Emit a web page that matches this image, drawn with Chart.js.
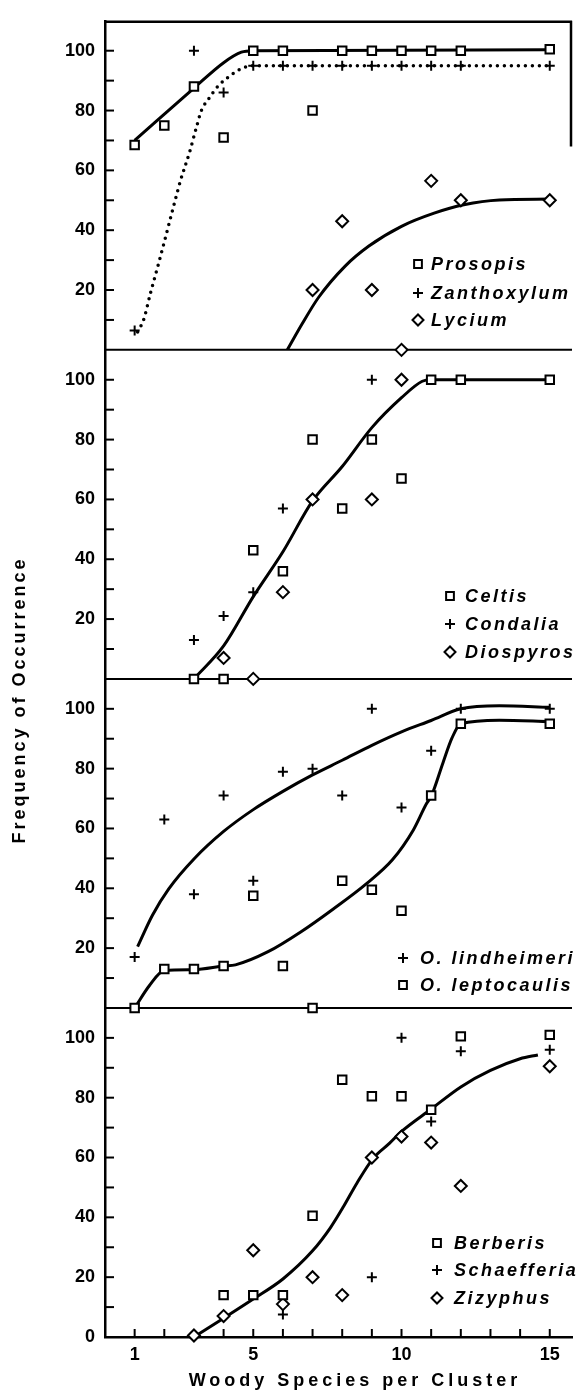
<!DOCTYPE html>
<html>
<head>
<meta charset="utf-8">
<title>Frequency of Occurrence vs Woody Species per Cluster</title>
<script src="https://cdn.jsdelivr.net/npm/chart.js@4.4.1/dist/chart.umd.min.js"></script>
<style>
    html, body { margin: 0; padding: 0; background: #fff; }
    #wrap { position: relative; width: 580px; height: 1394px; }
</style>
</head>
<body>
<div id="wrap"><canvas id="freqChart"></canvas></div>
<script>
// values (x = woody species per cluster, y = frequency %)

// panel 1
const prosopisX = [1, 2, 3, 4, 5, 6, 7, 8, 9, 10, 11, 12, 15];
const prosopisY = [68.5, 75, 88, 71, 100, 100, 80, 100, 100, 100, 100, 100, 100.5];
const zanthoxylumX = [1, 3, 4, 5, 6, 7, 8, 9, 10, 11, 12, 15];
const zanthoxylumY = [6.5, 100, 86, 95, 95, 95, 95, 95, 95, 95, 95, 95];
const lyciumX = [7, 8, 9, 10, 11, 12, 15];
const lyciumY = [20, 43, 20, 0, 56.5, 50, 50];
const prosopisFitX = [1, 3, 4, 4.6, 5, 15];
const prosopisFitY = [70, 87.5, 96, 99.5, 100, 100.3];
const zanthoxylumFitX = [1.1, 1.3, 1.55, 1.8, 2.05, 2.3, 2.55, 2.85, 3.1, 3.25, 3.5, 3.8, 4.2, 4.6, 5, 15];
const zanthoxylumFitY = [6, 10, 19.6, 28.6, 38, 47.5, 56.7, 66, 75, 80, 84, 88, 91.5, 94, 95, 95];
const lyciumFitX = [6.15, 6.65, 7.2, 8.1, 8.9, 10, 11.1, 12.1, 13.3, 15];
const lyciumFitY = [0, 8.7, 17.5, 28, 34.7, 41.3, 45.7, 48.5, 50.1, 50.4];

// panel 2
const celtisX = [3, 4, 5, 6, 7, 8, 9, 10, 11, 12, 15];
const celtisY = [0, 0, 43, 36, 80, 57, 80, 67, 100, 100, 100];
const condaliaX = [3, 4, 5, 6, 9];
const condaliaY = [13, 21, 29, 57, 100];
const diospyrosX = [4, 5, 6, 7, 9, 10];
const diospyrosY = [7, 0, 29, 60, 60, 100];
const panel2FitX = [3, 4, 5, 6, 7, 8, 9, 10, 10.7, 11, 15];
const panel2FitY = [0, 11, 27.5, 42.5, 59.5, 71, 84, 94, 99.5, 100, 100];

// panel 3
const lindheimeriX = [1, 2, 3, 4, 5, 6, 7, 8, 9, 10, 11, 12, 15];
const lindheimeriY = [17, 63, 38, 71, 42.5, 79, 80, 71, 100, 67, 86, 100, 100];
const leptocaulisX = [1, 2, 3, 4, 5, 6, 7, 8, 9, 10, 11, 12, 15];
const leptocaulisY = [0, 13, 13, 14, 37.5, 14, 0, 42.5, 39.5, 32.5, 71, 95, 95];
const lindheimeriFitX = [1.1, 1.6, 2.15, 3, 4, 5, 6, 7, 8, 9, 10, 11, 12, 13.3, 15];
const lindheimeriFitY = [20.5, 31, 39.8, 49.8, 59, 66.3, 72.4, 77.9, 82.8, 87.8, 92.3, 96.1, 100, 101, 100.5];
const leptocaulisFitX = [1, 1.5, 2, 3, 4, 4.4, 5.5, 6.6, 7.7, 8.8, 9.7, 10.4, 10.85, 11, 11.4, 11.7, 12, 13.3, 15];
const leptocaulisFitY = [0, 7.5, 12.5, 12.8, 14, 14.4, 18.8, 25.4, 33.1, 41.4, 49.6, 59.5, 68.4, 70.7, 82, 90.2, 95, 96.2, 95.7];

// panel 4
const berberisX = [4, 5, 6, 7, 8, 9, 10, 11, 12, 15];
const berberisY = [14, 14, 14, 40.5, 86, 80.5, 80.5, 76, 100.5, 101];
const schaefferiaX = [6, 9, 10, 11, 12, 15];
const schaefferiaY = [7.5, 20, 100, 72, 95.5, 96];
const zizyphusX = [3, 4, 5, 6, 7, 8, 9, 10, 11, 12, 15];
const zizyphusY = [0.5, 7, 29, 11, 20, 14, 60, 67, 65, 50.5, 90.5];
const panel4FitX = [3, 4, 5, 6, 7, 7.6, 8.05, 8.5, 9.05, 9.6, 10, 11, 12, 13, 14, 14.6];
const panel4FitY = [0, 6.3, 12.7, 19.4, 28.8, 36.5, 43.7, 51.5, 59.8, 64.8, 68.7, 76.2, 83.6, 89.1, 93, 94.3];

const xTickLabels = [1, 5, 10, 15];
const yTickLabels = [20, 40, 60, 80, 100];
const panelIds = ['p1', 'p2', 'p3', 'p4'];

const legendPanels = [
    { markX: 418, textX: 431, rows: [['rect', 'Prosopis', 264], ['cross', 'Zanthoxylum', 293], ['rectRot', 'Lycium', 320]] },
    { markX: 450, textX: 465, rows: [['rect', 'Celtis', 596], ['cross', 'Condalia', 624], ['rectRot', 'Diospyros', 652]] },
    { markX: 403, textX: 420, rows: [['cross', 'O. lindheimeri', 958], ['rect', 'O. leptocaulis', 985]] },
    { markX: 437, textX: 454, rows: [['rect', 'Berberis', 1243], ['cross', 'Schaefferia', 1270], ['rectRot', 'Zizyphus', 1298]] }
];

const FONT = "'Liberation Sans', Arial, Helvetica, sans-serif";

function pts(xs, ys) {
    return xs.map((x, i) => ({ x: x, y: ys[i] }));
}

function marks(label, xs, ys, style, axis) {
    return {
        label: label,
        data: pts(xs, ys),
        yAxisID: axis,
        showLine: false,
        pointStyle: style,
        pointRadius: style === 'cross' ? 5 : 6,
        pointBorderWidth: 2,
        pointBorderColor: '#000',
        pointBackgroundColor: '#fff',
        clip: false,
        order: 0
    };
}

function fit(label, xs, ys, axis, dotted) {
    return {
        label: label,
        data: pts(xs, ys),
        yAxisID: axis,
        showLine: true,
        pointRadius: 0,
        borderColor: '#000',
        borderWidth: dotted ? 3.5 : 3,
        borderDash: dotted ? [0, 7] : [],
        borderCapStyle: dotted ? 'round' : 'butt',
        cubicInterpolationMode: 'monotone',
        fill: false,
        order: 1
    };
}

function yScale(showZero) {
    return {
        type: 'linear',
        position: 'left',
        stack: 'panels',
        stackWeight: 1,
        min: 0,
        max: 110,
        grid: { display: false, drawTicks: false },
        border: { display: true, color: '#000', width: 2.5 },
        ticks: {
            stepSize: 10,
            autoSkip: false,
            padding: 10,
            color: '#000',
            font: { family: FONT, size: 18, weight: 'bold' },
            callback: function(v) {
                if (yTickLabels.includes(v) || (showZero && v === 0)) return String(v);
                return '';
            }
        },
        afterFit: function(scale) { scale.width = 42; }
    };
}

const panelDecor = {
    id: 'panelDecor',
    beforeDatasetsDraw(chart) {
        const ctx = chart.ctx;
        const area = chart.chartArea;
        ctx.save();
        ctx.strokeStyle = '#000';
        // top frame of first panel
        ctx.lineWidth = 2.5;
        ctx.beginPath();
        ctx.moveTo(area.left, area.top + 1);
        ctx.lineTo(area.right, area.top + 1);
        ctx.moveTo(area.right - 1, area.top);
        ctx.lineTo(area.right - 1, chart.scales.p1.getPixelForValue(68));
        ctx.stroke();
        // baselines between the panels
        ctx.lineWidth = 2;
        ['p1', 'p2', 'p3'].forEach(id => {
            const y = chart.scales[id].getPixelForValue(0);
            ctx.beginPath();
            ctx.moveTo(area.left, y);
            ctx.lineTo(area.right, y);
            ctx.stroke();
        });
        // inward tick marks
        panelIds.forEach(id => {
            const s = chart.scales[id];
            s.ticks.forEach(t => {
                if (t.value <= 0 || t.value >= 110) return;
                const y = s.getPixelForValue(t.value);
                ctx.beginPath();
                ctx.moveTo(area.left, y);
                ctx.lineTo(area.left + 9, y);
                ctx.stroke();
            });
        });
        const xs = chart.scales.x;
        xs.ticks.forEach(t => {
            if (t.value < 1 || t.value > 15) return;
            const x = xs.getPixelForValue(t.value);
            ctx.beginPath();
            ctx.moveTo(x, area.bottom);
            ctx.lineTo(x, area.bottom - 8);
            ctx.stroke();
        });
        ctx.restore();
    },
    afterDraw(chart) {
        const ctx = chart.ctx;
        ctx.save();
        ctx.fillStyle = '#000';
        ctx.textBaseline = 'middle';

        // legends inside each panel
        legendPanels.forEach(p => {
            p.rows.forEach(r => {
                ctx.save();
                ctx.fillStyle = '#fff';
                ctx.strokeStyle = '#000';
                ctx.lineWidth = 2;
                Chart.helpers.drawPoint(ctx, { pointStyle: r[0], radius: r[0] === 'cross' ? 5 : 5.5, rotation: 0, borderWidth: 2 }, p.markX, r[2]);
                ctx.restore();
                ctx.font = 'italic bold 18px ' + FONT;
                ctx.letterSpacing = '2.5px';
                ctx.textAlign = 'left';
                ctx.fillText(r[1], p.textX, r[2] + 1);
            });
        });

        // axis titles
        ctx.font = 'bold 18px ' + FONT;
        ctx.letterSpacing = '4px';
        ctx.textAlign = 'center';
        ctx.fillText('Woody Species per Cluster', 355, 1381);

        ctx.letterSpacing = '3px';
        ctx.translate(20, 700);
        ctx.rotate(-Math.PI / 2);
        ctx.fillText('Frequency of Occurrence', 0, 0);
        ctx.restore();
    }
};

Chart.defaults.font.family = FONT;
Chart.defaults.color = '#000';

// stacked y scales are laid out bottom-up in the order they are listed
const scales = {
    x: {
        type: 'linear',
        position: 'bottom',
        min: 0,
        max: 15.75,
        grid: { display: false, drawTicks: false },
        border: { display: true, color: '#000', width: 2.5 },
        ticks: {
            stepSize: 1,
            includeBounds: false,
            autoSkip: false,
            maxRotation: 0,
            padding: 7,
            color: '#000',
            font: { family: FONT, size: 18, weight: 'bold' },
            callback: function(v) { return xTickLabels.includes(v) ? String(v) : ''; }
        },
        afterFit: function(scale) { scale.height = 57; }
    },
    p4: yScale(true),
    p3: yScale(false),
    p2: yScale(false),
    p1: yScale(false)
};

const ctx = document.getElementById('freqChart').getContext('2d');
new Chart(ctx, {
    type: 'scatter',
    data: {
        datasets: [
            marks('Prosopis', prosopisX, prosopisY, 'rect', 'p1'),
            marks('Zanthoxylum', zanthoxylumX, zanthoxylumY, 'cross', 'p1'),
            marks('Lycium', lyciumX, lyciumY, 'rectRot', 'p1'),
            fit('Prosopis fit', prosopisFitX, prosopisFitY, 'p1', false),
            fit('Zanthoxylum fit', zanthoxylumFitX, zanthoxylumFitY, 'p1', true),
            fit('Lycium fit', lyciumFitX, lyciumFitY, 'p1', false),

            marks('Celtis', celtisX, celtisY, 'rect', 'p2'),
            marks('Condalia', condaliaX, condaliaY, 'cross', 'p2'),
            marks('Diospyros', diospyrosX, diospyrosY, 'rectRot', 'p2'),
            fit('Panel 2 fit', panel2FitX, panel2FitY, 'p2', false),

            marks('O. lindheimeri', lindheimeriX, lindheimeriY, 'cross', 'p3'),
            marks('O. leptocaulis', leptocaulisX, leptocaulisY, 'rect', 'p3'),
            fit('O. lindheimeri fit', lindheimeriFitX, lindheimeriFitY, 'p3', false),
            fit('O. leptocaulis fit', leptocaulisFitX, leptocaulisFitY, 'p3', false),

            marks('Berberis', berberisX, berberisY, 'rect', 'p4'),
            marks('Schaefferia', schaefferiaX, schaefferiaY, 'cross', 'p4'),
            marks('Zizyphus', zizyphusX, zizyphusY, 'rectRot', 'p4'),
            fit('Panel 4 fit', panel4FitX, panel4FitY, 'p4', false)
        ]
    },
    options: {
        responsive: true,
        maintainAspectRatio: false,
        animation: false,
        layout: { padding: { left: 63, right: 1, top: 12, bottom: 0 } },
        plugins: {
            legend: { display: false },
            tooltip: { enabled: false },
            title: { display: false }
        },
        scales: scales
    },
    plugins: [panelDecor]
});
</script>
</body>
</html>
